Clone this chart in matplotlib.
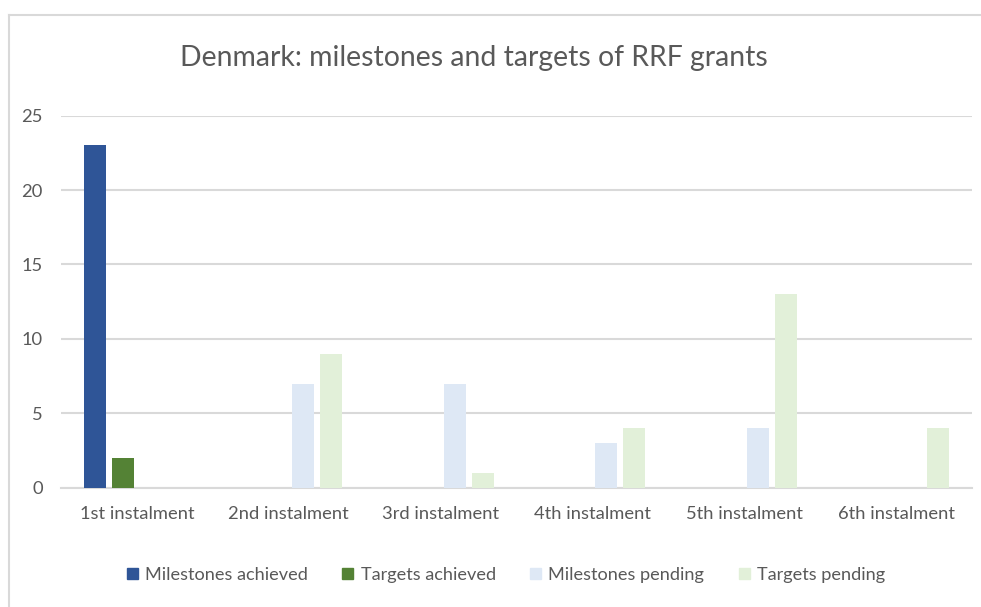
import matplotlib.pyplot as plt
import matplotlib.patches as mpatches
from matplotlib.lines import Line2D
import numpy as np

plt.rcParams['font.family'] = ['Lato', 'DejaVu Sans']

categories = ["1st instalment", "2nd instalment", "3rd instalment",
              "4th instalment", "5th instalment", "6th instalment"]
series_names = ["Milestones achieved", "Targets achieved",
                "Milestones pending", "Targets pending"]
milestones_achieved = [23, 0, 0, 0, 0, 0]
targets_achieved = [2, 0, 0, 0, 0, 0]
milestones_pending = [0, 7, 7, 3, 4, 0]
targets_pending = [0, 9, 1, 4, 13, 4]
y_ticks = [0, 5, 10, 15, 20, 25]

colors = ['#2F5597', '#548235', '#DEE8F5', '#E2F0D9']
text_col = '#595959'
grid_col = '#D9D9D9'

fig = plt.figure(figsize=(9.81, 6.07), dpi=100)
W, H = 981, 607

# chart area border: only the left and top edges show in the reference
fig.lines.append(Line2D([9 / W, 9 / W], [0, 1 - 15 / H], transform=fig.transFigure,
                        color=grid_col, linewidth=1.5))
fig.lines.append(Line2D([9 / W, 1], [1 - 15 / H, 1 - 15 / H], transform=fig.transFigure,
                        color=grid_col, linewidth=1.5))

ax = fig.add_axes([61 / W, 1 - 487.7 / H, (972 - 61) / W, (487.7 - 115.7) / H])

x = np.arange(len(categories))
step = 28 / 152
width = 22 / 152
all_series = [milestones_achieved, targets_achieved, milestones_pending, targets_pending]
for i, (vals, col, name) in enumerate(zip(all_series, colors, series_names)):
    ax.bar(x + (i - 1.5) * step, vals, width, color=col, label=name, zorder=3)

ax.set_xlim(-0.5, len(categories) - 0.5)
ax.set_ylim(0, 25)
ax.set_yticks(y_ticks)
ax.set_xticks(x)
ax.set_xticklabels(categories)
ax.yaxis.grid(True, color=grid_col, linewidth=1.5, zorder=0)
ax.set_axisbelow(True)
for s in ['top', 'right', 'left']:
    ax.spines[s].set_visible(False)
ax.spines['bottom'].set_color(grid_col)
ax.spines['bottom'].set_linewidth(1.5)
ax.tick_params(axis='both', length=0, colors=text_col, labelsize=13.2)
ax.tick_params(axis='y', pad=13)
ax.tick_params(axis='x', pad=13)

fig.text(474 / W, 1 - 58 / H, "Denmark: milestones and targets of RRF grants",
         ha='center', va='center', fontsize=20.4, color=text_col)

handles = [mpatches.Patch(color=c, label=n) for c, n in zip(colors, series_names)]
fig.legend(handles=handles, loc='center', bbox_to_anchor=(506 / W, 1 - 575 / H),
           ncol=4, frameon=False, fontsize=13.1, labelcolor=text_col,
           handlelength=0.6, handleheight=0.6, handletextpad=0.4, columnspacing=1.9)

fig.savefig('out.png', dpi=100)
